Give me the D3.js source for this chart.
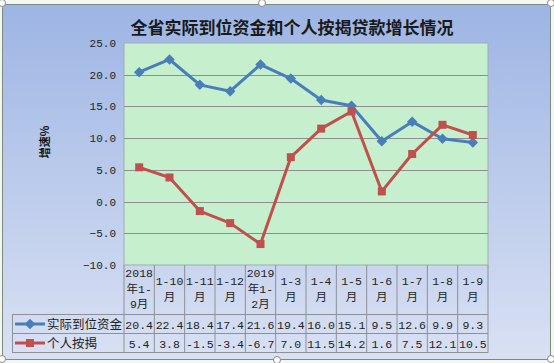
<!DOCTYPE html>
<html>
<head>
<meta charset="utf-8">
<script src="https://cdn.jsdelivr.net/npm/d3@7"></script>
<style>
  body { margin: 0; background: #f3f7f2; }
  svg { display: block; }
</style>
</head>
<body>
<svg id="chart"></svg>
<script>
const w = 554;
const h = 363;

const categories = [
  ["2018", "年1-", "9月"], ["1-10", "月"], ["1-11", "月"], ["1-12", "月"],
  ["2019", "年1-", "2月"], ["1-3", "月"], ["1-4", "月"], ["1-5", "月"],
  ["1-6", "月"], ["1-7", "月"], ["1-8", "月"], ["1-9", "月"]
];
const actualFunds = [20.4, 22.4, 18.4, 17.4, 21.6, 19.4, 16.0, 15.1, 9.5, 12.6, 9.9, 9.3];
const mortgage = [5.4, 3.8, -1.5, -3.4, -6.7, 7.0, 11.5, 14.2, 1.6, 7.5, 12.1, 10.5];
const seriesNames = ["实际到位资金", "个人按揭"];
const yTicks = [-10, -5, 0, 5, 10, 15, 20, 25];

const blue = "#4a7ebb";
const red = "#c0504d";
const numFont = "'Liberation Mono', 'Noto Sans CJK SC', monospace";
const cjkFont = "'Noto Sans CJK SC', sans-serif";

const svg = d3.select("#chart")
  .attr("width", w)
  .attr("height", h);

const defs = svg.append("defs");
const grad = defs.append("linearGradient")
  .attr("id", "bg")
  .attr("x1", 0).attr("y1", 0).attr("x2", 0).attr("y2", 1);
grad.append("stop").attr("offset", "0%").attr("stop-color", "#9db5e4");
grad.append("stop").attr("offset", "100%").attr("stop-color", "#d9e1f3");

// chart frame
svg.append("rect")
  .attr("x", 2.5).attr("y", 4.5)
  .attr("width", 548).attr("height", 355)
  .attr("rx", 3)
  .attr("fill", "url(#bg)")
  .attr("stroke", "#7f8a7f");

const xScale = d3.scaleBand()
  .domain(d3.range(categories.length))
  .range([124, 488]);

const yScale = d3.scaleLinear()
  .domain([-10, 25])
  .range([265, 43]);

// plot area
svg.append("rect")
  .attr("x", 124).attr("y", 43)
  .attr("width", 364).attr("height", 222)
  .attr("fill", "#c6efce")
  .attr("stroke", "#a4aab4");

svg.append("g")
  .selectAll("line")
  .data(yTicks.filter(t => t > -10 && t < 25))
  .enter()
  .append("line")
  .attr("x1", 124).attr("x2", 488)
  .attr("y1", d => Math.round(yScale(d)) + 0.5)
  .attr("y2", d => Math.round(yScale(d)) + 0.5)
  .attr("stroke", "#8e8e8e");

// y axis
const yAxis = d3.axisLeft(yScale)
  .tickValues(yTicks)
  .tickSize(0)
  .tickPadding(8)
  .tickFormat(d3.format(".1f"));

const yg = svg.append("g")
  .attr("transform", "translate(124,0)")
  .call(yAxis);
yg.select(".domain").remove();
yg.selectAll("text")
  .attr("font-family", numFont)
  .attr("font-size", 11)
  .attr("fill", "#222");

svg.append("text")
  .attr("transform", "translate(46,142) rotate(-90)")
  .attr("text-anchor", "middle")
  .attr("dominant-baseline", "middle")
  .attr("font-family", cjkFont)
  .attr("font-weight", "bold")
  .attr("font-size", 11)
  .attr("fill", "#111")
  .text("增速%");

// title
svg.append("text")
  .attr("x", 292).attr("y", 34)
  .attr("text-anchor", "middle")
  .attr("font-family", cjkFont)
  .attr("font-weight", "bold")
  .attr("font-size", 17)
  .attr("fill", "#1a1a1a")
  .text("全省实际到位资金和个人按揭贷款增长情况");

// lines
const cx = i => xScale(i) + xScale.bandwidth() / 2;
const line = d3.line()
  .x((d, i) => cx(i))
  .y(d => yScale(d));

svg.append("path")
  .datum(actualFunds)
  .attr("d", line)
  .attr("fill", "none")
  .attr("stroke", blue)
  .attr("stroke-width", 3)
  .attr("stroke-linejoin", "round");

svg.append("path")
  .datum(mortgage)
  .attr("d", line)
  .attr("fill", "none")
  .attr("stroke", red)
  .attr("stroke-width", 3)
  .attr("stroke-linejoin", "round");

const diamond = d3.symbol().type(d3.symbolDiamond2).size(70);
const square = d3.symbol().type(d3.symbolSquare).size(64);

svg.append("g")
  .selectAll("path")
  .data(actualFunds)
  .enter()
  .append("path")
  .attr("transform", (d, i) => `translate(${cx(i)},${yScale(d)})`)
  .attr("d", diamond)
  .attr("fill", blue);

svg.append("g")
  .selectAll("path")
  .data(mortgage)
  .enter()
  .append("path")
  .attr("transform", (d, i) => `translate(${cx(i)},${yScale(d)})`)
  .attr("d", square)
  .attr("fill", red);

// data table
const table = svg.append("g");
const gridColor = "#8d9096";
const rowY = [265, 314.5, 333.5, 352.5];

table.selectAll(".vline")
  .data(d3.range(categories.length + 1))
  .enter()
  .append("line")
  .attr("x1", i => i < categories.length ? xScale(i) : 488)
  .attr("x2", i => i < categories.length ? xScale(i) : 488)
  .attr("y1", rowY[0]).attr("y2", rowY[3])
  .attr("stroke", gridColor);

table.append("line")
  .attr("x1", 12.5).attr("x2", 12.5)
  .attr("y1", rowY[1]).attr("y2", rowY[3])
  .attr("stroke", gridColor);

table.selectAll(".hline")
  .data(rowY.slice(1))
  .enter()
  .append("line")
  .attr("x1", 12).attr("x2", 488)
  .attr("y1", d => d).attr("y2", d => d)
  .attr("stroke", gridColor);

// header labels
categories.forEach((lines, i) => {
  const top = lines.length === 3 ? 277 : 285;
  lines.forEach((s, j) => {
    table.append("text")
      .attr("x", cx(i))
      .attr("y", top + j * 15.5)
      .attr("text-anchor", "middle")
      .attr("font-family", numFont)
      .attr("font-size", 11.5)
      .attr("fill", "#222")
      .text(s);
  });
});

// series rows
[actualFunds, mortgage].forEach((vals, r) => {
  const y = (rowY[r + 1] + rowY[r + 2]) / 2 + 4.5;
  table.selectAll(null)
    .data(vals)
    .enter()
    .append("text")
    .attr("x", (d, i) => cx(i))
    .attr("y", y)
    .attr("text-anchor", "middle")
    .attr("font-family", numFont)
    .attr("font-size", 11.5)
    .attr("fill", "#222")
    .text(d => d.toFixed(1));

  const ly = (rowY[r + 1] + rowY[r + 2]) / 2;
  const color = r === 0 ? blue : red;
  table.append("line")
    .attr("x1", 15).attr("x2", 45)
    .attr("y1", ly).attr("y2", ly)
    .attr("stroke", color)
    .attr("stroke-width", 3);
  table.append("path")
    .attr("transform", `translate(30,${ly})`)
    .attr("d", r === 0 ? diamond : square)
    .attr("fill", color);
  table.append("text")
    .attr("x", 47)
    .attr("y", ly + 4.5)
    .attr("font-family", cjkFont)
    .attr("font-size", 12.5)
    .attr("fill", "#222")
    .text(seriesNames[r]);
});

// selection handles
const handles = [[2, 3], [262, 3], [551, 3], [2, 359], [277, 360], [551, 359]];
svg.append("g")
  .selectAll("circle")
  .data(handles)
  .enter()
  .append("circle")
  .attr("cx", d => d[0]).attr("cy", d => d[1])
  .attr("r", 3.5)
  .attr("fill", "#fff")
  .attr("stroke", "#8a8a8a");
</script>
</body>
</html>
